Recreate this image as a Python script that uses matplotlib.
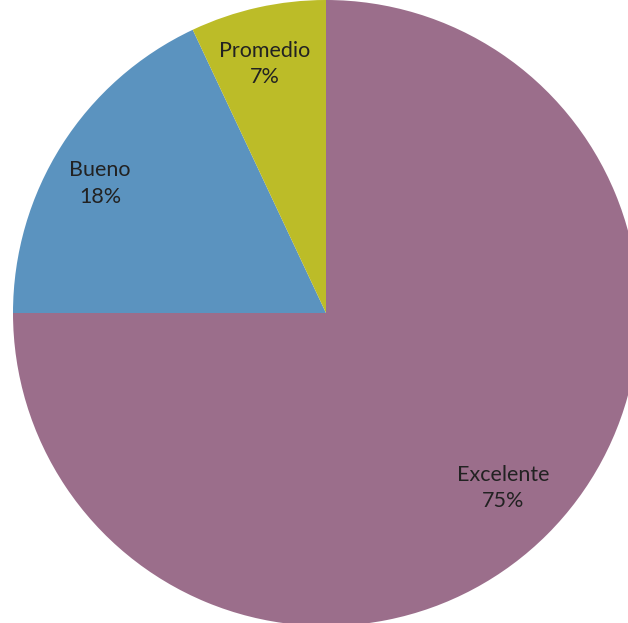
import matplotlib
matplotlib.use("Agg")
import matplotlib.pyplot as plt

labels = ["Excelente", "Bueno", "Promedio"]
shares = [75, 18, 7]
colors = ["#9b6e8b", "#5b93bf", "#bcbc28"]

# label anchor points in pie units (center 0,0, radius 1)
label_pos = [(0.565, -0.559), (-0.722, 0.414), (-0.195, 0.795)]

W, H = 628, 623
cx, cy, R = 326, 313, 313

fig = plt.figure(figsize=(W / 100, H / 100), dpi=100)
ax = fig.add_axes([0, 0, 1, 1])

ax.pie(shares, colors=colors, startangle=90, counterclock=False,
       radius=1, center=(0, 0), wedgeprops=dict(linewidth=0))

for lab, val, (x, y) in zip(labels, shares, label_pos):
    ax.text(x, y, f"{lab}\n{val}%", ha="center", va="center",
            fontsize=15.5, family="Lato", color="#222222", linespacing=1.4)

ax.set_xlim(-cx / R, (W - cx) / R)
ax.set_ylim(-(H - cy) / R, cy / R)
ax.set_aspect("auto")
ax.axis("off")

plt.savefig("out.png", dpi=100)
